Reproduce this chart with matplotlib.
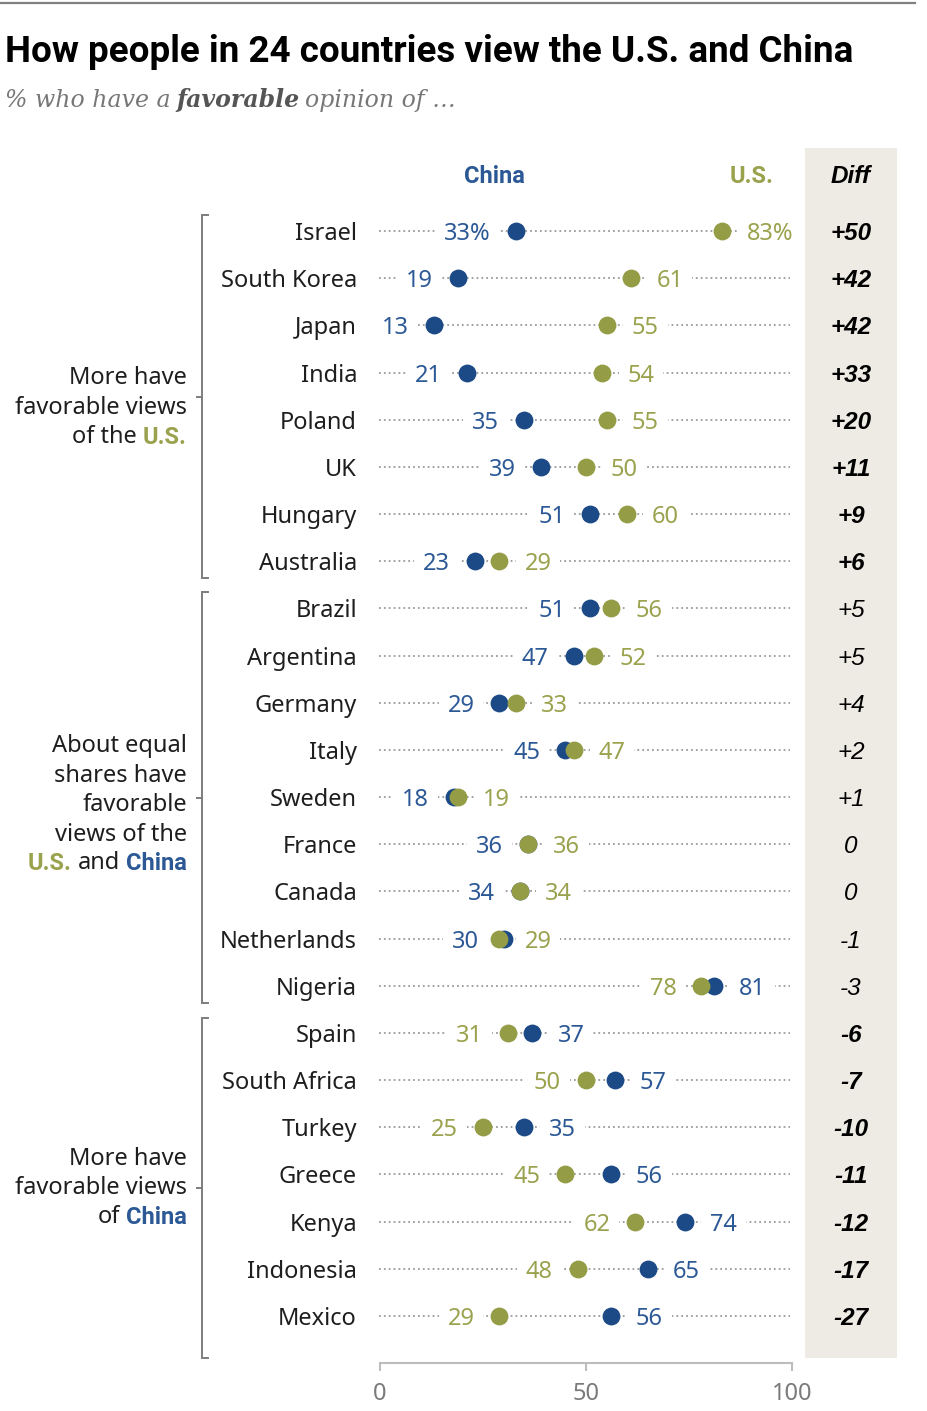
import matplotlib
matplotlib.use("Agg")
import matplotlib.pyplot as plt
from matplotlib.patches import Rectangle
from matplotlib.lines import Line2D

# ---------------- data ----------------
countries = ["Israel", "South Korea", "Japan", "India", "Poland", "UK", "Hungary", "Australia",
             "Brazil", "Argentina", "Germany", "Italy", "Sweden", "France", "Canada",
             "Netherlands", "Nigeria",
             "Spain", "South Africa", "Turkey", "Greece", "Kenya", "Indonesia", "Mexico"]
china = [33, 19, 13, 21, 35, 39, 51, 23,
         51, 47, 29, 45, 18, 36, 34, 30, 81,
         37, 57, 35, 56, 74, 65, 56]
us = [83, 61, 55, 54, 55, 50, 60, 29,
      56, 52, 33, 47, 19, 36, 34, 29, 78,
      31, 50, 25, 45, 62, 48, 29]
xticks = [0, 50, 100]
title = "How people in 24 countries view the U.S. and China"
# rows where the China label goes left although China is higher (as in the original)
china_left_override = ["Netherlands"]
bold_diff_rows = list(range(0, 8)) + list(range(17, 24))

# ---------------- style ----------------
W, H = 927, 1411
CH = "#1c4a86"
USC = "#949c45"
CH_T = "#2c5996"
US_T = "#9ba24e"
GRAY_LINE = "#9a9a9a"
REG = ["Noto Sans", "DejaVu Sans"]
BOLD = ["Roboto", "DejaVu Sans"]
plt.rcParams["font.family"] = REG

fig = plt.figure(figsize=(W / 100, H / 100), dpi=100)
fig.patch.set_facecolor("white")

ROW0, ROWSTEP = 231.0, 47.17


def X(px):
    return (px - 380.0) / 412.0 * 100.0


def Y(py):
    return (py - ROW0) / ROWSTEP


ax = fig.add_axes([380 / W, 1 - 1363 / H, 412 / W, (1363 - 148) / H])
ax.set_xlim(0, 100)
ax.set_ylim(Y(1363), Y(148))
ax.set_facecolor("none")
for s in ["top", "left", "right"]:
    ax.spines[s].set_visible(False)
ax.spines["bottom"].set_color("#bdbdbd")
ax.spines["bottom"].set_linewidth(1.5)
ax.set_yticks([])
ax.set_xticks(xticks)
ax.set_xticklabels([str(t) for t in xticks])
ax.tick_params(axis="x", length=6, width=1.5, color="#bdbdbd", labelsize=17,
               labelcolor="#7a7a7a", pad=8)

rows = list(range(len(countries)))

# diff column background
ax.add_patch(Rectangle((X(805), Y(148)), X(897) - X(805), Y(1358) - Y(148),
                       facecolor="#eeebe4", edgecolor="none", clip_on=False, zorder=0))

# dotted guide lines
for i in rows:
    ax.plot([X(379), X(790)], [i, i], color=GRAY_LINE, lw=1.3, ls=(0, (1, 1.7)),
            zorder=1, clip_on=False)

# dots
ax.scatter(china, rows, s=165, color=CH, linewidths=0, zorder=4, clip_on=False)
ax.scatter(us, rows, s=165, color=USC, linewidths=0, zorder=5, clip_on=False)

FS = 17
box = dict(boxstyle="square,pad=0.38", fc="white", ec="none")
for i, name in enumerate(countries):
    c, u = china[i], us[i]
    china_left = (c <= u) or (name in china_left_override)
    fmt = (lambda v: f"{v}%") if i == 0 else (lambda v: f"{v}")
    if china_left:
        left, right = (c, CH_T), (u, US_T)
    else:
        left, right = (u, US_T), (c, CH_T)
    ax.annotate(fmt(left[0]), xy=(left[0], i), xytext=(-25, 0), textcoords="offset pixels",
                ha="right", va="center_baseline", fontsize=FS, color=left[1],
                bbox=box, zorder=2, annotation_clip=False)
    ax.annotate(fmt(right[0]), xy=(right[0], i), xytext=(25, 0), textcoords="offset pixels",
                ha="left", va="center_baseline", fontsize=FS, color=right[1],
                bbox=box, zorder=2, annotation_clip=False)
    # country name
    ax.text(X(357), i, name, ha="right", va="center_baseline", fontsize=FS,
            color="#1e1e1e", clip_on=False)
    # diff
    d = u - c
    ds = f"+{d}" if d > 0 else f"{d}"
    ax.text(X(851), i, ds, ha="center", va="center_baseline", fontsize=17.5,
            style="italic", weight="bold" if i in bold_diff_rows else "normal",
            color="black", family=["Liberation Sans", "DejaVu Sans"], clip_on=False)

# headers
ax.text(X(494), Y(174), "China", ha="center", va="center_baseline", fontsize=17,
        weight="bold", color=CH_T, family=BOLD, clip_on=False)
ax.text(X(752), Y(174), "U.S.", ha="center", va="center_baseline", fontsize=17,
        weight="bold", color=US_T, family=BOLD, clip_on=False)
ax.text(X(851), Y(174), "Diff", ha="center", va="center_baseline", fontsize=17.5,
        weight="bold", style="italic", color="black",
        family=["Liberation Sans", "DejaVu Sans"], clip_on=False)

# brackets
for top, bot, stub in [(215, 578, 397), (592, 1003, 798), (1018, 1358, 1188)]:
    ax.plot([X(208), X(202), X(202), X(208)], [Y(top), Y(top), Y(bot), Y(bot)],
            color="#7d7d7d", lw=1.4, clip_on=False, solid_joinstyle="miter")
    ax.plot([X(197), X(202)], [Y(stub), Y(stub)], color="#7d7d7d", lw=1.4, clip_on=False)

# group labels (runs: text, color, weight)
K = ("#1e1e1e", "normal")
group_lines = [
    (375, [("More have",) + K]),
    (405, [("favorable views",) + K]),
    (435, [("of the",) + K, ("U.S.", US_T, "bold")]),
    (743, [("About equal",) + K]),
    (773, [("shares have",) + K]),
    (802, [("favorable",) + K]),
    (832, [("views of the",) + K]),
    (861, [("U.S.", US_T, "bold"), ("and",) + K, ("China", CH_T, "bold")]),
    (1156, [("More have",) + K]),
    (1185, [("favorable views",) + K]),
    (1215, [("of",) + K, ("China", CH_T, "bold")]),
]
GAP = 4.5
for ypx, runs in group_lines:
    t, col, wt = runs[-1]
    fam = BOLD if wt == "bold" else REG
    prev = ax.text(X(187), Y(ypx), t, ha="right", va="center_baseline", fontsize=FS,
                   color=col, weight=wt, family=fam, clip_on=False)
    for t, col, wt in reversed(runs[:-1]):
        fam = BOLD if wt == "bold" else REG
        prev = ax.annotate(t, xy=(0, 0), xycoords=prev, xytext=(-GAP, 0),
                           textcoords="offset points", ha="right", va="bottom",
                           fontsize=FS, color=col, weight=wt, family=fam)

# top rule
fig.add_artist(Line2D([0, 915 / W], [1 - 3 / H, 1 - 3 / H], color="#808080", lw=1.6))

# title (fit to width)
tt = fig.text(5 / W, 1 - 62.5 / H, title, fontsize=24, weight="bold", color="black",
              va="baseline", ha="left", family=BOLD)
r = fig.canvas.get_renderer()
w = tt.get_window_extent(r).width
tt.set_fontsize(24 * 850.0 / w)

# subtitle
sub_runs = [("% who have a", "#777777", "normal"), ("favorable", "#555555", "bold"),
            ("opinion of …", "#777777", "normal")]
SUBFS = 17
prev = fig.text(5 / W, 1 - 107 / H, sub_runs[0][0], fontsize=SUBFS, style="italic",
                color=sub_runs[0][1], family=["DejaVu Serif"], va="baseline", ha="left")
for t, col, wt in sub_runs[1:]:
    prev = ax.annotate(t, xy=(1, 0), xycoords=prev, xytext=(4, 0),
                       textcoords="offset points", ha="left", va="bottom",
                       fontsize=SUBFS, style="italic", color=col, weight=wt,
                       family=["DejaVu Serif"])

fig.savefig("out.png", dpi=100)
